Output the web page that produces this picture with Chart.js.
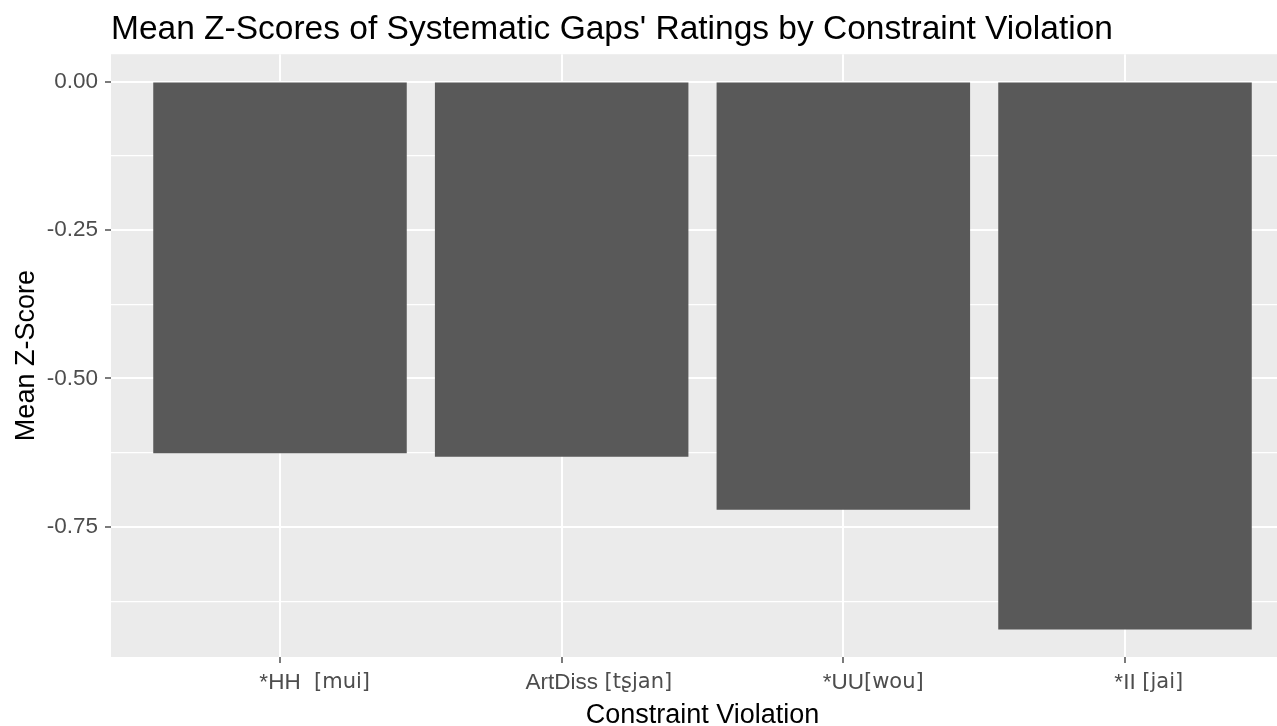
<!DOCTYPE html>
<html><head><meta charset="utf-8">
<script src="https://cdn.jsdelivr.net/npm/chart.js@4"></script>
<style>
html,body{margin:0;padding:0;background:#fff;overflow:hidden;width:1277px;height:726px}
#wrap{width:1277px;height:726px;overflow:hidden;position:relative}
canvas{display:block}
</style></head>
<body><div id="wrap"><canvas id="c" width="1300" height="726"></canvas></div>
<script>
const categories = ["*HH", "ArtDiss", "*UU", "*II"];
const transcriptions = ["  [mui]", " [tʂjan]", "[wou]", " [jai]"];
const meanZ = [-0.626, -0.632, -0.721, -0.923];
const yMajorTicks = [0, -0.25, -0.5, -0.75];
const yMinorTicks = [-0.125, -0.375, -0.625, -0.875];
const chartTitle = "Mean Z-Scores of Systematic Gaps' Ratings by Constraint Violation";
const xTitle = "Constraint Violation";
const yTitle = "Mean Z-Score";

const FONT = "'Liberation Sans', Arial, sans-serif";
const IPA_FONT = "'DejaVu Sans', 'Liberation Sans', sans-serif";
const TICK_SIZE = 22.5, IPA_SIZE = 21, TICK_LEN = 6, X_PAD = 6;
const dMin = Math.min(0, ...meanZ), dMax = Math.max(0, ...meanZ);
const span = dMax - dMin;

const panelBg = {
  id: 'panelBg',
  beforeDraw(chart) {
    const {ctx, chartArea: a} = chart;
    ctx.save(); ctx.fillStyle = '#EBEBEB';
    ctx.fillRect(a.left, a.top, a.right - a.left, a.bottom - a.top);
    ctx.restore();
  }
};
const suffixLabels = {
  id: 'suffixLabels',
  afterDraw(chart) {
    const {ctx} = chart; const xs = chart.scales.x;
    ctx.save();
    ctx.fillStyle = '#4D4D4D'; ctx.textAlign = 'left'; ctx.textBaseline = 'middle';
    const y = xs.top + TICK_LEN + X_PAD + TICK_SIZE * 1.2 / 2;
    categories.forEach((c, i) => {
      const x = xs.getPixelForValue(i + 1);
      ctx.font = TICK_SIZE + 'px ' + FONT;
      const w = ctx.measureText(c).width;
      ctx.font = IPA_SIZE + 'px ' + IPA_FONT;
      ctx.fillText(transcriptions[i], x + w / 2, y);
    });
    ctx.restore();
  }
};

new Chart(document.getElementById('c'), {
  type: 'bar',
  data: {
    datasets: [{
      data: meanZ.map((v, i) => ({x: i + 1, y: v})),
      backgroundColor: '#595959',
      borderWidth: 0,
      categoryPercentage: 0.9,
      barPercentage: 1.0
    }]
  },
  options: {
    responsive: false, animation: false, devicePixelRatio: 1,
    layout: {padding: {left: 0, right: 6, top: 0, bottom: 0}},
    plugins: {
      legend: {display: false},
      tooltip: {enabled: false},
      title: {
        display: true, text: chartTitle, align: 'start', fullSize: false,
        color: '#000', font: {family: FONT, size: 33.5, weight: 'normal'},
        padding: {top: 10, bottom: 4}
      }
    },
    scales: {
      x: {
        type: 'linear', min: 0.4, max: 4.6, offset: false,
        afterBuildTicks(s) { s.ticks = categories.map((c, i) => ({value: i + 1})); },
        afterFit(s) { s.height = 69; },
        ticks: {
          autoSkip: false, maxRotation: 0, padding: X_PAD, color: '#4D4D4D',
          font: {family: FONT, size: TICK_SIZE},
          callback: (v) => categories[v - 1]
        },
        grid: {offset: false, color: '#FFFFFF', lineWidth: 2, tickLength: TICK_LEN, tickColor: '#333333', tickWidth: 1.3},
        border: {display: false},
        title: {display: true, text: xTitle, color: '#000', font: {family: FONT, size: 27, lineHeight: 0.9}, padding: {top: 0, bottom: -2}}
      },
      y: {
        type: 'linear', min: dMin - 0.05 * span, max: dMax + 0.05 * span,
        afterBuildTicks(s) {
          s.ticks = [...yMinorTicks, ...yMajorTicks].sort((a, b) => a - b).map(v => ({value: v}));
        },
        afterFit(s) { s.width = 111; },
        ticks: {
          autoSkip: false, padding: 7, color: '#4D4D4D',
          font: {family: FONT, size: TICK_SIZE},
          callback: (v) => yMajorTicks.includes(v) ? v.toFixed(2) : ''
        },
        grid: {
          color: '#FFFFFF',
          lineWidth: (c) => yMajorTicks.includes(c.tick && c.tick.value) ? 2 : 1.2,
          tickLength: TICK_LEN,
          tickColor: (c) => yMajorTicks.includes(c.tick && c.tick.value) ? '#333333' : 'rgba(0,0,0,0)',
          tickWidth: 1.3
        },
        border: {display: false},
        title: {display: true, text: yTitle, color: '#000', font: {family: FONT, size: 27}, padding: {top: 10, bottom: 0}}
      }
    }
  },
  plugins: [panelBg, suffixLabels]
});
</script>
</body></html>
